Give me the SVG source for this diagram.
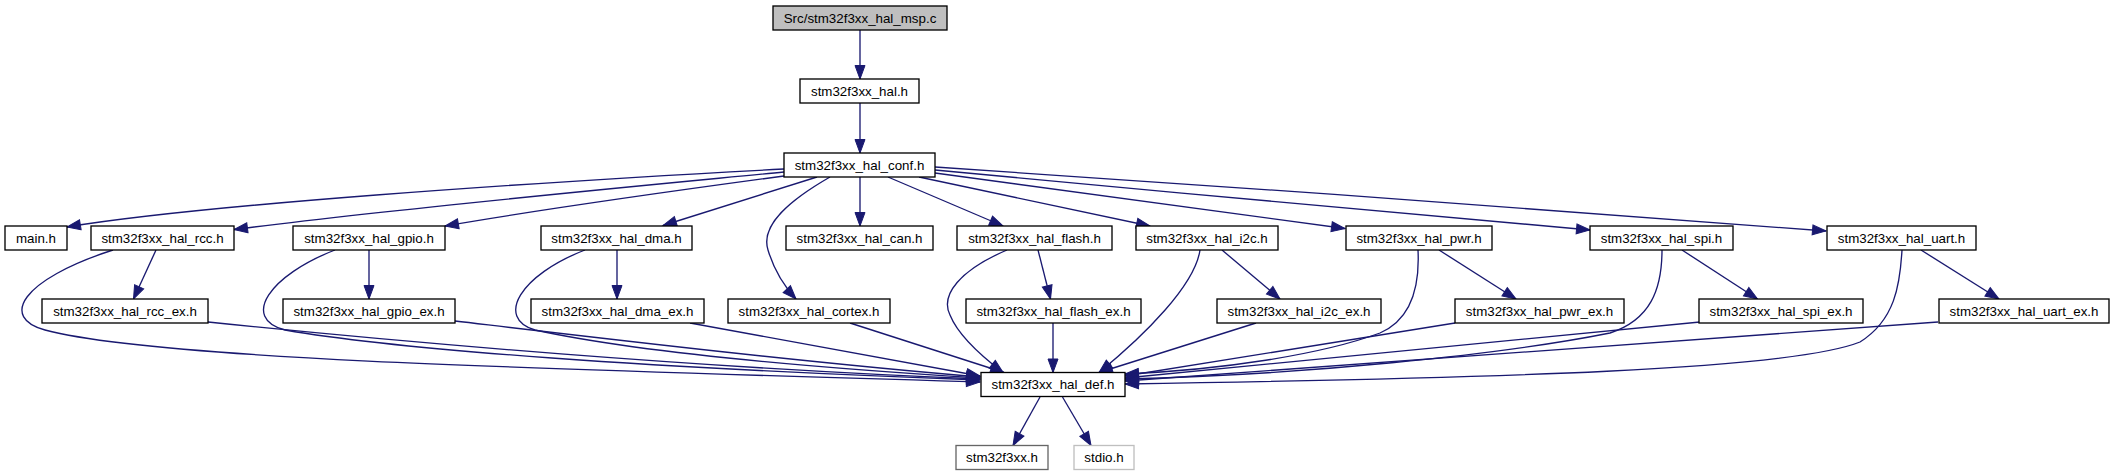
<svg xmlns="http://www.w3.org/2000/svg" width="2114" height="476" viewBox="0 0 2114 476">
<defs>
<style>
.n rect{fill:#fff;stroke:#000;stroke-width:1.33}
.n text{font-family:"Liberation Sans",Arial,Helvetica,sans-serif;font-size:13.33px;text-anchor:middle;fill:#000}
.e path{fill:none;stroke:#191970;stroke-width:1.33;marker-end:url(#ah)}
</style>
<marker id="ah" markerUnits="userSpaceOnUse" markerWidth="14" markerHeight="10" viewBox="0 0 14 10" refX="13.5" refY="5" orient="auto" overflow="visible">
<path d="M0,0 L13.5,5 L0,10 Z" fill="#191970" stroke="#191970" stroke-width="1"/>
</marker>
</defs>
<rect width="2114" height="476" fill="#fff"/>
<g id="edges" class="e">
<path d="M860,30 L860,79"/>
<path d="M860,103 L860,153"/>
<path d="M784,169 C520,183 200,205 67,227"/>
<path d="M784,172 C650,185 400,208 234,229.5"/>
<path d="M784,176 C680,190 550,208 445,226"/>
<path d="M817,177 L663,225.5"/>
<path d="M830,177 C790,200 760,225 768,250 C774,270 783,285 796,299"/>
<path d="M860,177 L860,226"/>
<path d="M888,177 L1003,226"/>
<path d="M919,177 L1150,226"/>
<path d="M935,173 L1345,228.5"/>
<path d="M935,170 C1150,190 1400,214 1590,230"/>
<path d="M935,167 C1200,185 1600,212 1826,231"/>
<path d="M156,250 L133.5,299"/>
<path d="M369,250 L369,299"/>
<path d="M617,250 L617,299"/>
<path d="M1038,250 L1050.5,299"/>
<path d="M1222,250 L1280,299"/>
<path d="M1439,250 L1516,299"/>
<path d="M1682,250 L1757.5,299"/>
<path d="M1921,250 L1999,299"/>
<path d="M113,250 C20,280 0,318 45,330 C150,358 500,368 980,382"/>
<path d="M208,322 C400,342 700,368 980,379"/>
<path d="M335,250 C270,275 240,318 285,330 C400,350 650,368 980,380"/>
<path d="M455,321 C600,338 800,362 980,377"/>
<path d="M585,250 C520,275 495,318 535,330 C650,355 850,370 980,378"/>
<path d="M690,323 C800,343 900,362 980,376"/>
<path d="M850,323 L1004,372.5"/>
<path d="M1007,250 C960,270 940,295 950,315 C958,335 980,355 1003,372.5"/>
<path d="M1053,323 L1053,372.5"/>
<path d="M1200,250 C1195,285 1145,335 1099,372.5"/>
<path d="M1256,323 L1099,372.5"/>
<path d="M1418,250 C1420,290 1410,320 1380,333 C1320,355 1220,370 1125,374"/>
<path d="M1455,323 L1125,376"/>
<path d="M1662,250 C1662,290 1650,320 1610,333 C1500,355 1300,375 1125,379"/>
<path d="M1700,322 L1125,378"/>
<path d="M1902,250 C1900,285 1895,320 1860,342 C1790,370 1500,378 1125,384"/>
<path d="M1938,322 L1125,381"/>
<path d="M1040,397 L1013,445.5"/>
<path d="M1062.5,397 L1091,445.5"/>
</g>
<g id="n_src" class="n"><rect x="773" y="6" width="174" height="24" style="fill:#bfbfbf"/><text x="860" y="22.5">Src/stm32f3xx_hal_msp.c</text></g>
<g id="n_hal" class="n"><rect x="800" y="79" width="119" height="24"/><text x="859.5" y="95.5">stm32f3xx_hal.h</text></g>
<g id="n_conf" class="n"><rect x="784" y="153" width="151" height="24"/><text x="859.5" y="169.5">stm32f3xx_hal_conf.h</text></g>
<g id="n_main" class="n"><rect x="5" y="226" width="62" height="24"/><text x="36" y="242.5">main.h</text></g>
<g id="n_rcc" class="n"><rect x="91" y="226" width="143" height="24"/><text x="162.5" y="242.5">stm32f3xx_hal_rcc.h</text></g>
<g id="n_gpio" class="n"><rect x="293" y="226" width="152" height="24"/><text x="369" y="242.5">stm32f3xx_hal_gpio.h</text></g>
<g id="n_dma" class="n"><rect x="541" y="226" width="151" height="24"/><text x="616.5" y="242.5">stm32f3xx_hal_dma.h</text></g>
<g id="n_can" class="n"><rect x="786" y="226" width="147" height="24"/><text x="859.5" y="242.5">stm32f3xx_hal_can.h</text></g>
<g id="n_flash" class="n"><rect x="957" y="226" width="155" height="24"/><text x="1034.5" y="242.5">stm32f3xx_hal_flash.h</text></g>
<g id="n_i2c" class="n"><rect x="1136" y="226" width="142" height="24"/><text x="1207" y="242.5">stm32f3xx_hal_i2c.h</text></g>
<g id="n_pwr" class="n"><rect x="1346" y="226" width="146" height="24"/><text x="1419" y="242.5">stm32f3xx_hal_pwr.h</text></g>
<g id="n_spi" class="n"><rect x="1590" y="226" width="143" height="24"/><text x="1661.5" y="242.5">stm32f3xx_hal_spi.h</text></g>
<g id="n_uart" class="n"><rect x="1827" y="226" width="149" height="24"/><text x="1901.5" y="242.5">stm32f3xx_hal_uart.h</text></g>
<g id="n_rcc_ex" class="n"><rect x="42" y="299" width="166" height="24"/><text x="125" y="315.5">stm32f3xx_hal_rcc_ex.h</text></g>
<g id="n_gpio_ex" class="n"><rect x="283" y="299" width="172" height="24"/><text x="369" y="315.5">stm32f3xx_hal_gpio_ex.h</text></g>
<g id="n_dma_ex" class="n"><rect x="531" y="299" width="173" height="24"/><text x="617.5" y="315.5">stm32f3xx_hal_dma_ex.h</text></g>
<g id="n_cortex" class="n"><rect x="728" y="299" width="162" height="24"/><text x="809" y="315.5">stm32f3xx_hal_cortex.h</text></g>
<g id="n_flash_ex" class="n"><rect x="966" y="299" width="175" height="24"/><text x="1053.5" y="315.5">stm32f3xx_hal_flash_ex.h</text></g>
<g id="n_i2c_ex" class="n"><rect x="1217" y="299" width="164" height="24"/><text x="1299" y="315.5">stm32f3xx_hal_i2c_ex.h</text></g>
<g id="n_pwr_ex" class="n"><rect x="1455" y="299" width="169" height="24"/><text x="1539.5" y="315.5">stm32f3xx_hal_pwr_ex.h</text></g>
<g id="n_spi_ex" class="n"><rect x="1699" y="299" width="164" height="24"/><text x="1781" y="315.5">stm32f3xx_hal_spi_ex.h</text></g>
<g id="n_uart_ex" class="n"><rect x="1939" y="299" width="170" height="24"/><text x="2024" y="315.5">stm32f3xx_hal_uart_ex.h</text></g>
<g id="n_def" class="n"><rect x="981" y="372.5" width="144" height="24"/><text x="1053" y="389">stm32f3xx_hal_def.h</text></g>
<g id="n_stm32f3xx" class="n"><rect x="956" y="445.5" width="92" height="24" style="stroke:#666"/><text x="1002" y="462">stm32f3xx.h</text></g>
<g id="n_stdio" class="n"><rect x="1074" y="445.5" width="60" height="24" style="stroke:#bfbfbf"/><text x="1104" y="462">stdio.h</text></g>
</svg>
